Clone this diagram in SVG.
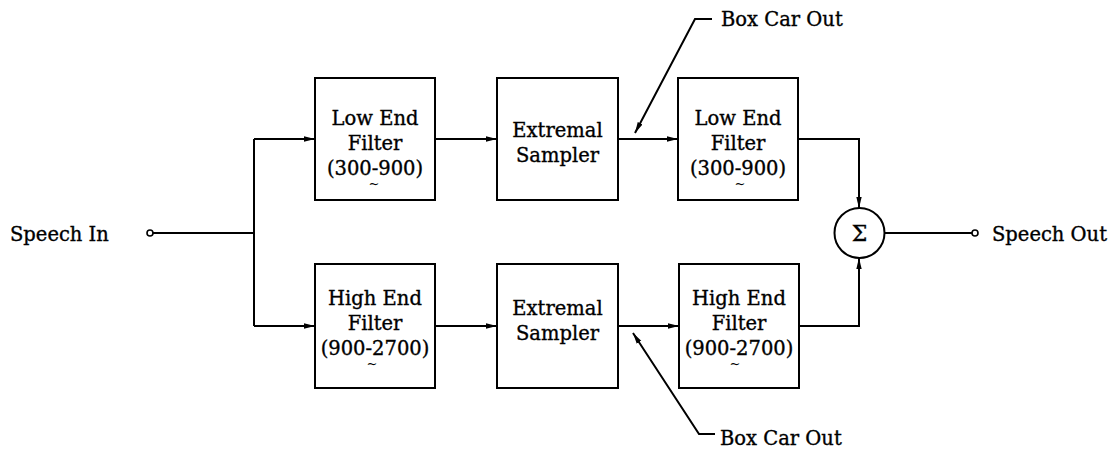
<svg xmlns="http://www.w3.org/2000/svg" width="1115" height="449" viewBox="0 0 1115 449">
<style>
.box{fill:#fff;stroke:#000;stroke-width:2}
.ln{fill:none;stroke:#000;stroke-width:2}
.t{font-family:"DejaVu Serif","Liberation Serif",serif;font-size:19.5px;fill:#000;stroke:#000;stroke-width:0.35}
.c{text-anchor:middle}
.tl{font-family:"DejaVu Serif","Liberation Serif",serif;font-size:13px;fill:#000;text-anchor:middle}
</style>
<defs>
<marker id="ar" markerWidth="11" markerHeight="7" refX="11" refY="3.5" orient="auto" markerUnits="userSpaceOnUse">
<path d="M0,0.8 L11,3.5 L0,6.2 Z" fill="#000"/>
</marker>
</defs>
<rect width="1115" height="449" fill="#fff"/>
<g id="connectors">
<circle cx="150" cy="233" r="3" fill="#fff" stroke="#000" stroke-width="1.6"/>
<path class="ln" d="M153,233 H254"/>
<path class="ln" d="M254,139 V326"/>
<path class="ln" d="M254,139 H315" marker-end="url(#ar)"/>
<path class="ln" d="M254,326 H315" marker-end="url(#ar)"/>
<path class="ln" d="M435,139 H497" marker-end="url(#ar)"/>
<path class="ln" d="M435,326 H497" marker-end="url(#ar)"/>
<path class="ln" d="M618,139 H678" marker-end="url(#ar)"/>
<path class="ln" d="M618,326 H679" marker-end="url(#ar)"/>
<path class="ln" d="M798,139 H859 V208" marker-end="url(#ar)"/>
<path class="ln" d="M799,326 H859 V258" marker-end="url(#ar)"/>
<path class="ln" d="M885,233 H972"/>
<circle cx="975" cy="233" r="3" fill="#fff" stroke="#000" stroke-width="1.6"/>
<path class="ln" d="M712,19 H695 L635,133" marker-end="url(#ar)"/>
<path class="ln" d="M715,434 H699 L633,333" marker-end="url(#ar)"/>
</g>
<g id="speech-in"><text class="t" x="10" y="241">Speech In</text></g>
<g id="speech-out"><text class="t" x="992" y="241">Speech Out</text></g>
<g id="boxcar-top"><text class="t" x="721" y="26">Box Car Out</text></g>
<g id="boxcar-bottom"><text class="t" x="720" y="445">Box Car Out</text></g>
<g id="low-filter-1">
<rect class="box" x="315" y="78" width="120" height="122"/>
<text class="t c" x="375" y="125">Low End</text>
<text class="t c" x="375" y="150">Filter</text>
<text class="t c" x="375" y="175">(300-900)</text>
<text class="tl" x="374" y="188">~</text>
</g>
<g id="extremal-1">
<rect class="box" x="497" y="78" width="121" height="122"/>
<text class="t c" x="557.5" y="137">Extremal</text>
<text class="t c" x="557.5" y="162">Sampler</text>
</g>
<g id="low-filter-2">
<rect class="box" x="678" y="78" width="120" height="122"/>
<text class="t c" x="738" y="125">Low End</text>
<text class="t c" x="738" y="150">Filter</text>
<text class="t c" x="738" y="175">(300-900)</text>
<text class="tl" x="740" y="188">~</text>
</g>
<g id="high-filter-1">
<rect class="box" x="315" y="264" width="120" height="124"/>
<text class="t c" x="375" y="305">High End</text>
<text class="t c" x="375" y="330">Filter</text>
<text class="t c" x="375" y="355">(900-2700)</text>
<text class="tl" x="372" y="368">~</text>
</g>
<g id="extremal-2">
<rect class="box" x="497" y="264" width="121" height="124"/>
<text class="t c" x="557.5" y="315">Extremal</text>
<text class="t c" x="557.5" y="340">Sampler</text>
</g>
<g id="high-filter-2">
<rect class="box" x="679" y="264" width="120" height="124"/>
<text class="t c" x="739" y="305">High End</text>
<text class="t c" x="739" y="330">Filter</text>
<text class="t c" x="739" y="355">(900-2700)</text>
<text class="tl" x="735" y="368">~</text>
</g>
<g id="sum">
<circle cx="859.5" cy="233" r="25" fill="#fff" stroke="#000" stroke-width="2"/>
<text class="t c" x="859.5" y="241" style="font-size:22px">Σ</text>
</g>
</svg>
